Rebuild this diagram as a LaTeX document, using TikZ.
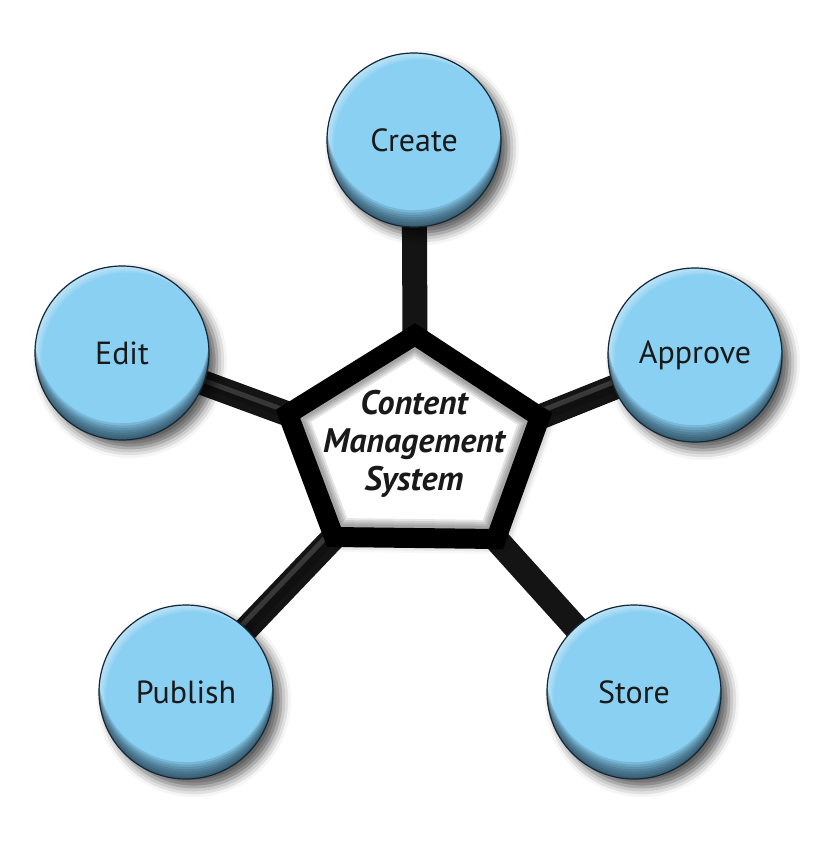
\documentclass[tikz,border=0pt]{standalone}
\usepackage{fontspec}
\setmainfont{PT Sans}
\usepackage{tikz}
\usetikzlibrary{calc}
\usetikzlibrary{positioning}
\usetikzlibrary{shadows.blur}
\usetikzlibrary{backgrounds}
\usepackage{xcolor}
\definecolor{knob}{RGB}{138,208,242}
\definecolor{rim}{RGB}{20,40,55}
\definecolor{ink}{RGB}{25,25,25}

\begin{document}
\begin{tikzpicture}[x=1pt, y=-1pt,
	c/.style = {circle, draw=rim, line width=1.2pt, fill=knob, minimum size=174pt,
		font=\fontsize{32}{36}\selectfont, text=ink,
		blur shadow={shadow xshift=8pt, shadow yshift=-8pt, shadow blur radius=10pt, shadow opacity=65},
		path picture={
			\foreach \k in {1,...,4}
				\fill[white, opacity=0.12, even odd rule]
					(path picture bounding box.south west) rectangle (path picture bounding box.north east)
					($(path picture bounding box.center)+(1.6*\k,1.6*\k)$) circle (87pt);
			\foreach \k in {1,...,7}
				\fill[rim, opacity=0.14, even odd rule]
					(path picture bounding box.south west) rectangle (path picture bounding box.north east)
					($(path picture bounding box.center)+(0,-2.4*\k)$) circle (87pt);
		}},
	p/.style = {draw=black, line width=20pt, line join=miter},
	pw/.style = {fill=white,
		blur shadow={shadow xshift=7pt, shadow yshift=-7pt, shadow blur radius=8pt, shadow opacity=45}},
	pf/.style = {draw=black, opacity=0.1, line join=miter},
	t/.style = {align=center, font=\fontsize{34}{38}\selectfont\bfseries\itshape, text=ink},
	b/.style = {line width=25pt, black!92},
	bh/.style = {line width=5pt, black!50, opacity=0.35, line cap=round,
		preaction={draw, line width=10pt, opacity=0.2},
		transform canvas={xshift=-4pt, yshift=4pt}}
	]
	\useasboundingbox (0,0) rectangle (840,854);
	
	% === === Nodes === ===
	\node[c]	(create)	at	(414, 140)	{Create};
	\node[c]	(edit)		at	(122, 353)	{Edit};
	\node[c]	(approve)	at	(695, 355)	{Approve};
	\node[c]	(publish)	at	(186, 692)	{Publish};
	\node[c]	(store)		at	(634, 692)	{Store};
	
	\coordinate	(p1)	at	(415, 335);
	\coordinate	(p2)	at	(288, 414);
	\coordinate	(p3)	at	(334, 537);
	\coordinate	(p4)	at	(496, 539);
	\coordinate	(p5)	at	(540, 417);
	
	% === === Hub === ===
	\path[pw]	(p1) -- (p2) -- (p3) -- (p4) -- (p5) -- cycle;
	\begin{scope}
		\clip	(p1) -- (p2) -- (p3) -- (p4) -- (p5) -- cycle;
		\foreach \w in {26,30,34,38}
			\draw[pf, line width=\w pt]	(p1) -- (p2) -- (p3) -- (p4) -- (p5) -- cycle;
	\end{scope}
	\draw[p]	(p1) -- (p2) -- (p3) -- (p4) -- (p5) -- cycle;
	\node[t]	(cms)	at	(414, 444)	{Content\\Management\\System};
	
	% === === Lines === ===
	\begin{scope}[on background layer]
		\draw[b]	(p1)	--	(create.center);
		\draw[b]	(p2)	--	(edit.center);
		\draw[b]	(p3)	--	(publish.center);
		\draw[b]	(p4)	--	(store.center);
		\draw[b]	(p5)	--	(approve.center);
		\draw[bh]	(p2)	--	(edit.center);
		\draw[bh]	(p3)	--	(publish.center);
		\draw[bh]	(p5)	--	(approve.center);
	\end{scope}
	
\end{tikzpicture}
\end{document}
